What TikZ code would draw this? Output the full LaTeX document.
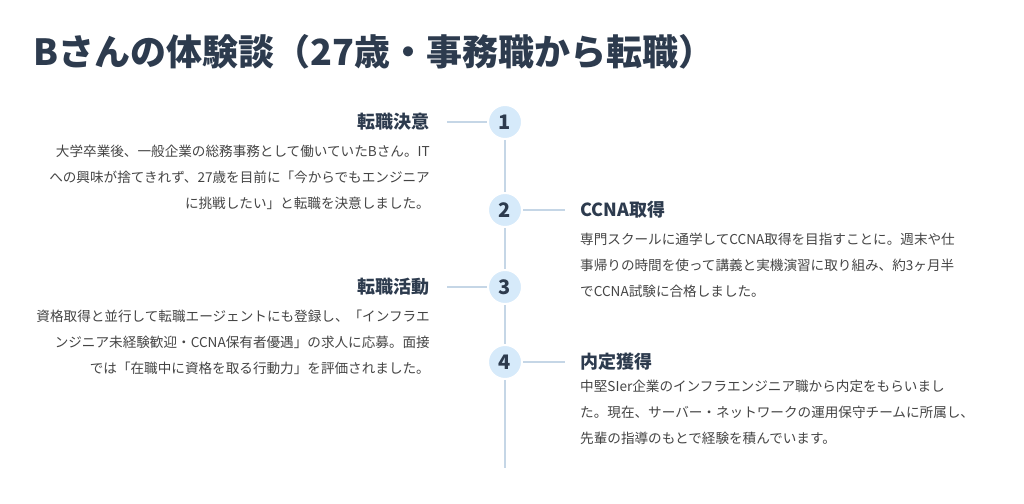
\documentclass[tikz,border=0pt]{standalone}
\usepackage{fontspec}
\setmainfont{Noto Sans CJK JP}
\definecolor{ink}{HTML}{2D3B4E}
\definecolor{body}{HTML}{444444}
\definecolor{line}{HTML}{C5D6E6}
\definecolor{dotfill}{HTML}{D6EAFA}
\tikzset{
  stepdot/.style={shape=circle, fill=dotfill, draw=white, line width=2pt, minimum size=34pt, inner sep=0pt, font=\fontsize{20}{22}\selectfont\bfseries, text=ink},
  heading/.style={font=\fontsize{18}{20}\selectfont\bfseries, text=ink, inner sep=0pt},
  bodytext/.style={font=\fontsize{13.6}{26}\selectfont, text=body, inner sep=0pt, align=#1},
  link/.style={line, line width=1.5pt}
}
\begin{document}
\begin{tikzpicture}[x=1pt,y=-1pt]
\useasboundingbox (0,0) rectangle (1024,503);
\node[anchor=west, font=\fontsize{36}{40}\selectfont\bfseries, text=ink, inner sep=0pt] (title) at (33,52) {Bさんの体験談（27歳・事務職から転職）};

\coordinate (top) at (505,122);
\coordinate (bottom) at (505,468);
\draw[link] (top) -- (bottom);

\node[stepdot] (s1) at (505,122) {1};
\node[stepdot] (s2) at (505,210) {2};
\node[stepdot] (s3) at (505,287) {3};
\node[stepdot] (s4) at (505,362) {4};

\node[heading, anchor=east] (h1) at (430,122) {転職決意};
\node[heading, anchor=west] (h2) at (580,210) {CCNA取得};
\node[heading, anchor=east] (h3) at (430,287) {転職活動};
\node[heading, anchor=west] (h4) at (580,362) {内定獲得};

\coordinate (c1) at (447,122);
\coordinate (c2) at (565,210);
\coordinate (c3) at (447,287);
\coordinate (c4) at (565,362);
\draw[link] (c1) -- (s1);
\draw[link] (s2) -- (c2);
\draw[link] (c3) -- (s3);
\draw[link] (s4) -- (c4);

\node[bodytext=right, anchor=north east] (b1) at (430,145) {大学卒業後、一般企業の総務事務として働いていたBさん。IT\\への興味が捨てきれず、27歳を目前に「今からでもエンジニア\\に挑戦したい」と転職を決意しました。};
\node[bodytext=left, anchor=north west] (b2) at (580,233) {専門スクールに通学してCCNA取得を目指すことに。週末や仕\\事帰りの時間を使って講義と実機演習に取り組み、約3ヶ月半\\でCCNA試験に合格しました。};
\node[bodytext=right, anchor=north east] (b3) at (430,310) {資格取得と並行して転職エージェントにも登録し、「インフラエ\\ンジニア未経験歓迎・CCNA保有者優遇」の求人に応募。面接\\では「在職中に資格を取る行動力」を評価されました。};
\node[bodytext=left, anchor=north west] (b4) at (580,380) {中堅SIer企業のインフラエンジニア職から内定をもらいまし\\た。現在、サーバー・ネットワークの運用保守チームに所属し、\\先輩の指導のもとで経験を積んでいます。};
\end{tikzpicture}
\end{document}
